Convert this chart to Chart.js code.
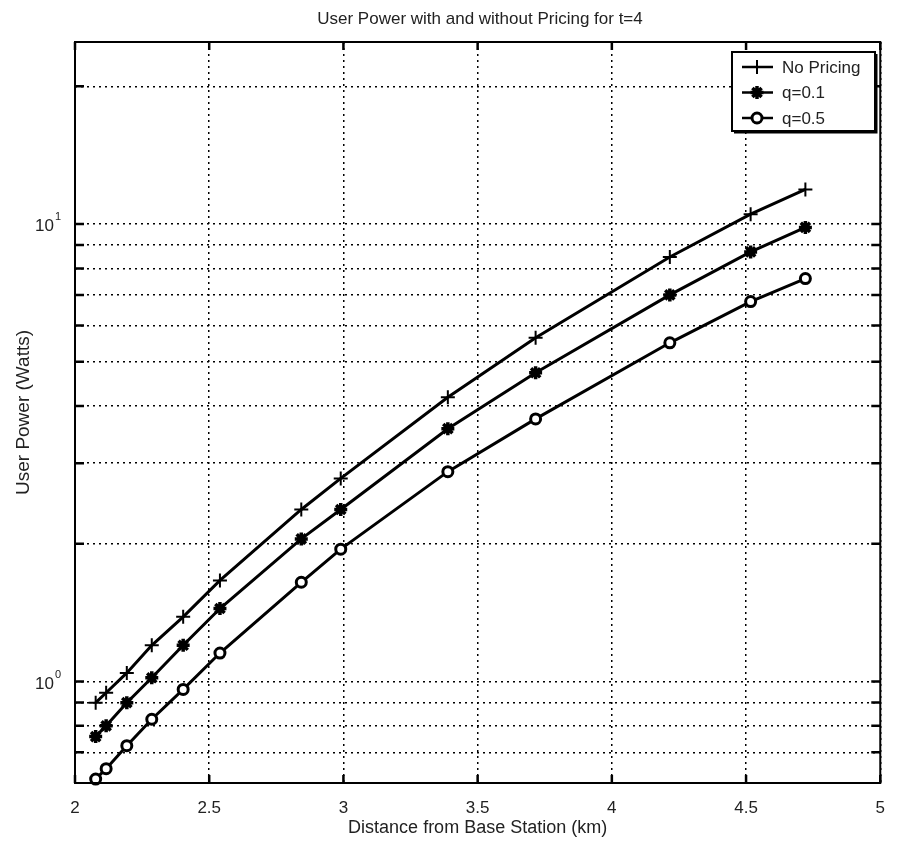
<!DOCTYPE html>
<html lang="en">
<head>
<meta charset="UTF-8">
<title>User Power with and without Pricing</title>
<script src="https://cdn.jsdelivr.net/npm/chart.js"></script>
<style>
  html, body { margin: 0; padding: 0; background: #fff; }
  #wrap { width: 900px; height: 842px; }
</style>
</head>
<body>
<div id="wrap"><canvas id="grafico"></canvas></div>
<script>
// distance from base station (km), shared by all curves
const distancia = [2.077, 2.116, 2.193, 2.286, 2.403, 2.540, 2.843, 2.990, 3.389, 3.716, 4.216, 4.517, 4.721];
// user power (Watts)
const semPreco = [0.899, 0.945, 1.044, 1.20, 1.385, 1.663, 2.377, 2.78, 4.18, 5.64, 8.47, 10.51, 11.9];
const q01 = [0.758, 0.80, 0.899, 1.019, 1.20, 1.444, 2.05, 2.377, 3.57, 4.73, 7.0, 8.69, 9.83];
const q05 = [0.612, 0.645, 0.724, 0.827, 0.961, 1.154, 1.648, 1.947, 2.876, 3.75, 5.50, 6.77, 7.6];

const legendas = ['No Pricing', 'q=0.1', 'q=0.5'];
const xTicks = [2, 2.5, 3, 3.5, 4, 4.5, 5];
const yGrid = [0.7, 0.8, 0.9, 1, 2, 3, 4, 5, 6, 7, 8, 9, 10, 20];
const yRotulos = [1, 10];

const fonte = '"Liberation Sans", Arial, Helvetica, sans-serif';

function pontos(ys) {
  return distancia.map(function (x, i) { return { x: x, y: ys[i] }; });
}

// box, inner tick marks, y labels with exponent, legend
const moldura = {
  id: 'moldura',
  afterDraw(chart) {
    const ctx = chart.ctx;
    const a = chart.chartArea;
    const sx = chart.scales.x, sy = chart.scales.y;
    ctx.save();
    ctx.strokeStyle = '#000';
    ctx.lineWidth = 2;
    ctx.strokeRect(a.left, a.top, a.right - a.left, a.bottom - a.top);

    // tick marks pointing inward
    ctx.lineWidth = 2.5;
    ctx.beginPath();
    xTicks.forEach(function (v) {
      const px = sx.getPixelForValue(v);
      ctx.moveTo(px, a.bottom); ctx.lineTo(px, a.bottom - 8);
      ctx.moveTo(px, a.top); ctx.lineTo(px, a.top + 8);
    });
    yGrid.forEach(function (v) {
      const py = sy.getPixelForValue(v);
      ctx.moveTo(a.left, py); ctx.lineTo(a.left + 9, py);
      ctx.moveTo(a.right, py); ctx.lineTo(a.right - 9, py);
    });
    ctx.stroke();

    // y labels 10^n
    ctx.fillStyle = '#222';
    ctx.textBaseline = 'alphabetic';
    yRotulos.forEach(function (v) {
      const py = sy.getPixelForValue(v);
      const exp = String(Math.round(Math.log10(v)));
      ctx.font = '11px ' + fonte;
      const we = ctx.measureText(exp).width;
      const xr = a.left - 14;
      ctx.textAlign = 'right';
      ctx.fillText(exp, xr, py - 4);
      ctx.font = '17px ' + fonte;
      ctx.fillText('10', xr - we - 1, py + 7);
    });

    // legend
    const lx = 732, ly = 52, lw = 143, lh = 79;
    ctx.fillStyle = '#fff';
    ctx.fillRect(lx, ly, lw, lh);
    ctx.lineWidth = 2;
    ctx.strokeRect(lx, ly, lw, lh);
    ctx.lineWidth = 3;
    ctx.beginPath();
    ctx.moveTo(lx + lw + 1, ly + 2); ctx.lineTo(lx + lw + 1, ly + lh + 1); ctx.lineTo(lx + 2, ly + lh + 1);
    ctx.stroke();
    chart.data.datasets.forEach(function (ds, i) {
      const yy = ly + 15 + i * 25.5;
      ctx.strokeStyle = '#000';
      ctx.lineWidth = 2.5;
      ctx.beginPath();
      ctx.moveTo(lx + 10, yy); ctx.lineTo(lx + 41, yy);
      ctx.stroke();
      marcador(ctx, ds, lx + 25, yy);
      ctx.fillStyle = '#222';
      ctx.font = '17px ' + fonte;
      ctx.textAlign = 'left';
      ctx.textBaseline = 'middle';
      ctx.fillText(ds.label, lx + 50, yy + 1);
    });
    ctx.restore();
  }
};

function marcador(ctx, ds, x, y) {
  const r = ds.pointRadius;
  ctx.lineWidth = ds.pointBorderWidth;
  ctx.strokeStyle = '#000';
  ctx.beginPath();
  if (ds.pointStyle === 'circle') {
    ctx.fillStyle = '#fff';
    ctx.arc(x, y, r, 0, Math.PI * 2);
    ctx.fill();
  } else {
    ctx.moveTo(x - r, y); ctx.lineTo(x + r, y);
    ctx.moveTo(x, y - r); ctx.lineTo(x, y + r);
    if (ds.pointStyle === 'star') {
      const d = r * 0.707;
      ctx.moveTo(x - d, y - d); ctx.lineTo(x + d, y + d);
      ctx.moveTo(x - d, y + d); ctx.lineTo(x + d, y - d);
    }
  }
  ctx.stroke();
}

// title on top
const titulo = {
  id: 'titulo',
  afterDraw(chart) {
    const ctx = chart.ctx;
    ctx.save();
    ctx.fillStyle = '#222';
    ctx.font = '17px ' + fonte;
    ctx.textAlign = 'center';
    ctx.textBaseline = 'middle';
    ctx.fillText('User Power with and without Pricing for t=4', 480, 19);
    ctx.restore();
  }
};

function serie(label, ys, estilo, raio, borda) {
  return {
    label: label,
    data: pontos(ys),
    borderColor: '#000',
    borderWidth: 3,
    pointStyle: estilo,
    pointRadius: raio,
    pointBorderWidth: borda,
    pointBorderColor: '#000',
    pointBackgroundColor: '#fff',
    tension: 0,
    clip: false
  };
}

const config = {
  type: 'line',
  data: {
    datasets: [
      serie(legendas[0], semPreco, 'cross', 7, 2),
      serie(legendas[1], q01, 'star', 6.5, 3.5),
      serie(legendas[2], q05, 'circle', 5, 3)
    ]
  },
  options: {
    responsive: true,
    maintainAspectRatio: false,
    animation: false,
    layout: { padding: { top: 42, right: 18, left: 0, bottom: 0 } },
    plugins: { legend: { display: false }, tooltip: { enabled: false }, title: { display: false } },
    scales: {
      x: {
        type: 'linear',
        min: 2,
        max: 5,
        afterBuildTicks: function (s) { s.ticks = xTicks.map(function (v) { return { value: v }; }); },
        afterFit: function (s) { s.height = 59; },
        ticks: { color: '#222', font: { family: fonte, size: 17 }, padding: 15, maxRotation: 0,
          callback: function (v) { return String(v); } },
        grid: { color: '#000', lineWidth: 1.5, drawTicks: false },
        border: { display: false, dash: [2, 4] },
        title: { display: true, text: 'Distance from Base Station (km)', color: '#222',
          font: { family: fonte, size: 18 }, padding: { top: 0, bottom: 3 } }
      },
      y: {
        type: 'logarithmic',
        min: 0.615,
        max: 25,
        afterBuildTicks: function (s) { s.ticks = yGrid.map(function (v) { return { value: v }; }); },
        afterFit: function (s) { s.width = 75; },
        ticks: { display: false },
        grid: { color: '#000', lineWidth: 1.5, drawTicks: false },
        border: { display: false, dash: [2, 4] },
        title: { display: true, text: 'User Power (Watts)', color: '#222',
          font: { family: fonte, size: 19 }, padding: { top: 12, bottom: 0 } }
      }
    }
  },
  plugins: [moldura, titulo]
};

let grafico = new Chart(document.getElementById('grafico'), config);
</script>
</body>
</html>
